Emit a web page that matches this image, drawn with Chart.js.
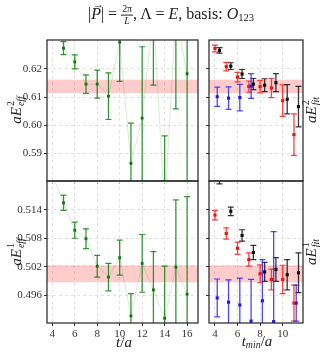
<!DOCTYPE html>
<html><head><meta charset="utf-8">
<script src="https://cdn.jsdelivr.net/npm/chart.js@4"></script>
<style>
html,body{margin:0;padding:0;background:#fff;}
#wrap{position:relative;width:320px;height:352px;overflow:hidden;background:#fff;}
canvas{position:absolute;left:0;top:0;}
.lab{position:absolute;font-family:'Liberation Serif',serif;color:#222;white-space:nowrap;line-height:1;}
.rot{transform:translate(-50%,-50%) rotate(-90deg);font-size:15px;}
.ctr{transform:translate(-50%,-50%);}
.ss{display:inline-block;vertical-align:-0.32em;font-size:0.66em;line-height:1.05;margin-left:1px;text-align:left;}
.ss span{display:block;}
.frac{display:inline-block;vertical-align:middle;text-align:center;font-size:0.62em;line-height:1.1;}
.frac span{display:block;padding:0 1px;}
.frac .num{border-bottom:0.8px solid #222;}
.vec{position:relative;display:inline-block;}
.arr{position:absolute;left:0.12em;top:-0.62em;font-size:0.72em;}
sub{font-size:0.66em;vertical-align:-0.25em;line-height:0;}
</style></head><body>
<div id="wrap">
<canvas id="c1" width="320" height="352"></canvas>
<canvas id="c2" width="320" height="352"></canvas>
<canvas id="c3" width="320" height="352"></canvas>
<canvas id="c4" width="320" height="352"></canvas>
<div class="lab ctr" style="left:171px;top:15px;font-size:16px">|<span class="vec"><i>P</i><span class="arr">&#8594;</span></span>| = <span class="frac"><span class="num">2π</span><span><i>L</i></span></span>, Λ = <i>E</i>, basis: <i>O</i><sub>123</sub></div>
<div class="lab rot" style="left:16px;top:110px"><i>aE</i><span class="ss"><span>2</span><span><i>eff</i></span></span></div>
<div class="lab rot" style="left:16px;top:252px"><i>aE</i><span class="ss"><span>1</span><span><i>eff</i></span></span></div>
<div class="lab rot" style="left:311px;top:110px"><i>aE</i><span class="ss"><span>2</span><span><i>fit</i></span></span></div>
<div class="lab rot" style="left:311px;top:252px"><i>aE</i><span class="ss"><span>1</span><span><i>fit</i></span></span></div>
<div class="lab ctr" style="left:124px;top:342px;font-size:15px"><i>t</i>/<i>a</i></div>
<div class="lab ctr" style="left:257px;top:341px;font-size:15px"><i>t<sub>min</sub></i>/<i>a</i></div>
</div>
<script>
// ---- data ----
const tEff = [4,5,6,7,8,9,10,11,12,13,14,15,16];
const eff2 = [0.660,0.6274,0.6225,0.6146,0.6146,0.6103,0.6295,0.5864,0.6025,0.640,0.570,0.640,0.6183];
const eff2Err = [0.002,0.0023,0.0025,0.0033,0.005,0.0083,0.0139,0.0143,0.0254,0.0258,0.0262,0.0342,0.045];
const eff1 = [0.5216,0.5155,0.5097,0.5079,0.5021,0.4998,0.5039,0.4916,0.5027,0.4971,0.4911,0.5019,0.4962];
const eff1Err = [0.0012,0.0016,0.0017,0.0021,0.0023,0.0029,0.0037,0.0047,0.0061,0.0081,0.011,0.0142,0.0206];
const band2 = [0.6114,0.6162];
const band1 = [0.4987,0.5023];

const tFit = [4,5,6,7,8,9,10,11];
const fit2Red = [0.6273,0.6208,0.6171,0.6137,0.6137,0.6132,0.6087,0.5966];
const fit2RedErr = [0.0012,0.0015,0.0017,0.002,0.0022,0.0034,0.0056,0.0074];
const fit2Black = [0.6266,0.621,0.6182,0.6146,0.6142,0.6151,0.6092,0.6066];
const fit2BlackErr = [0.001,0.0012,0.0016,0.002,0.0023,0.0032,0.0052,0.0072];
const tBlue2 = [4,5,6,7];
const fit2Blue = [0.6101,0.6096,0.6098,0.6139];
const fit2BlueErr = [0.0034,0.004,0.0047,0.0044];

const fit1Red = [0.5129,0.509,0.5059,0.5035,0.5005,0.4993,0.4993,0.4943];
const fit1RedErr = [0.001,0.0012,0.0013,0.0014,0.0019,0.0022,0.003,0.0038];
const fit1Black = [0.5222,0.5137,0.5086,0.505,0.5009,0.5014,0.5003,0.5007];
const fit1BlackErr = [0.0027,0.0009,0.0012,0.0015,0.002,0.0025,0.0032,0.0042];
const tBlue1 = [4,5,6,7,8,9,11];
const fit1Blue = [0.4954,0.4945,0.4939,0.4905,0.4948,0.4904,0.4943];
const fit1BlueErr = [0.004,0.0047,0.0057,0.0088,0.0087,0.019,0.0038];

const xTicksEff = [4,6,8,10,12,14,16];
const xTicksFit = [4,6,8,10];
const yTicks2 = [0.59,0.60,0.61,0.62];
const yTicks1 = [0.496,0.502,0.508,0.514];

// ---- drawing ----
const pts = (xs, ys, es, off) => xs.map((x,i)=>({x:x+off, y:ys[i], e:es[i]}));
const FONT = {family:"'Liberation Serif', serif", size:11};
const TXT = '#333';
const GRID = '#dadada';

const deco = {
  id:'deco',
  beforeDatasetsDraw(chart, args, opts){
    const {ctx, chartArea:a, scales:{x,y}} = chart;
    ctx.save();
    ctx.beginPath(); ctx.rect(a.left, a.top, a.right-a.left, a.bottom-a.top); ctx.clip();
    const b = opts.band;
    const y1 = y.getPixelForValue(b[1]), y0 = y.getPixelForValue(b[0]);
    ctx.fillStyle = 'rgba(255,0,0,0.2)';
    ctx.fillRect(a.left, y1, a.right-a.left, y0-y1);
    ctx.restore();
  },
  afterDatasetsDraw(chart){
    const {ctx, chartArea:a, scales:{x,y}} = chart;
    ctx.save();
    ctx.beginPath(); ctx.rect(a.left, a.top, a.right-a.left, a.bottom-a.top); ctx.clip();
    chart.data.datasets.forEach(ds=>{
      ctx.strokeStyle = ds.errColor;
      ds.data.forEach(p=>{
        const px = x.getPixelForValue(p.x);
        const yt = y.getPixelForValue(p.y+p.e), yb = y.getPixelForValue(p.y-p.e);
        ctx.lineWidth = 1.3;
        ctx.beginPath(); ctx.moveTo(px, yt); ctx.lineTo(px, yb); ctx.stroke();
        ctx.lineWidth = 1.2;
        ctx.beginPath();
        ctx.moveTo(px-3, yt); ctx.lineTo(px+3, yt);
        ctx.moveTo(px-3, yb); ctx.lineTo(px+3, yb);
        ctx.stroke();
      });
    });
    ctx.restore();
  },
  afterDraw(chart){
    const {ctx, chartArea:a} = chart;
    ctx.save();
    ctx.strokeStyle = '#222'; ctx.lineWidth = 1.2;
    ctx.strokeRect(a.left, a.top, a.right-a.left, a.bottom-a.top);
    ctx.restore();
  }
};

function panel(id, o){
  return new Chart(document.getElementById(id), {
    type:'scatter',
    data:{datasets:o.datasets},
    options:{
      responsive:false, animation:false, devicePixelRatio:1,
      layout:{padding:o.pad},
      plugins:{legend:{display:false}, tooltip:{enabled:false}, title:{display:false}, deco:{band:o.band}},
      scales:{
        x:{type:'linear', position:'bottom', min:o.xmin, max:o.xmax,
          afterBuildTicks:s=>{ s.ticks = o.xt.map(v=>({value:v})); },
          afterFit:s=>{ s.height = o.xh; },
          ticks:{display:o.xlab, font:FONT, color:TXT, padding:2, maxRotation:0, callback:v=>String(v)},
          grid:{color:GRID, lineWidth:0.8, tickColor:'#333', tickLength:3, tickWidth:1, tickBorderDash:[]},
          border:{display:false, dash:[3,3]}},
        y:{type:'linear', position:'left', min:o.ymin, max:o.ymax,
          afterBuildTicks:s=>{ s.ticks = o.yt.map(v=>({value:v})); },
          afterFit:s=>{ s.width = o.yw; },
          ticks:{display:o.ylab, font:FONT, color:TXT, padding:2, callback:v=>v.toFixed(o.dec)},
          grid:{color:GRID, lineWidth:0.8, tickColor:'#333', tickLength:3, tickWidth:1, tickBorderDash:[]},
          border:{display:false, dash:[3,3]}}
      }
    },
    plugins:[deco]
  });
}

const greenDs = (ys, es) => ({
  data: pts(tEff, ys, es, 0), showLine:true,
  borderColor:'rgba(0,128,0,0.16)', borderWidth:1,
  pointStyle:'rect', pointRadius:2, pointBackgroundColor:'#0a6a0a', pointBorderColor:'#0a6a0a', pointBorderWidth:0,
  errColor:'rgba(20,130,20,0.85)'
});
const fitDs = (xs, ys, es, off, col, ecol) => ({
  data: pts(xs, ys, es, off), showLine:false,
  pointStyle:'rect', pointRadius:2.2, pointBackgroundColor:col, pointBorderColor:col, pointBorderWidth:0,
  errColor:ecol
});

panel('c1', {pad:{left:17,right:122,top:40,bottom:171}, xh:0, yw:30, xlab:false, ylab:true,
  xmin:3.53, xmax:16.97, ymin:0.5801, ymax:0.6303, xt:xTicksEff, yt:yTicks2, dec:2, band:band2,
  datasets:[greenDs(eff2, eff2Err)]});
panel('c2', {pad:{left:17,right:122,top:181,bottom:11}, xh:18, yw:30, xlab:true, ylab:true,
  xmin:3.53, xmax:16.97, ymin:0.4901, ymax:0.5201, xt:xTicksEff, yt:yTicks1, dec:3, band:band1,
  datasets:[greenDs(eff1, eff1Err)]});
panel('c3', {pad:{left:203,right:17,top:40,bottom:171}, xh:0, yw:6, xlab:false, ylab:false,
  xmin:3.47, xmax:11.8, ymin:0.5801, ymax:0.6303, xt:xTicksFit, yt:yTicks2, dec:2, band:band2,
  datasets:[
    fitDs(tFit, fit2Red, fit2RedErr, 0, '#e00000', 'rgba(255,30,30,0.85)'),
    fitDs(tFit, fit2Black, fit2BlackErr, 0.4, '#000', 'rgba(20,20,20,0.85)'),
    fitDs(tBlue2, fit2Blue, fit2BlueErr, 0.2, '#1010e0', 'rgba(40,40,255,0.85)')
  ]});
panel('c4', {pad:{left:203,right:17,top:181,bottom:11}, xh:18, yw:6, xlab:true, ylab:false,
  xmin:3.47, xmax:11.8, ymin:0.4901, ymax:0.5201, xt:xTicksFit, yt:yTicks1, dec:3, band:band1,
  datasets:[
    fitDs(tFit, fit1Red, fit1RedErr, 0, '#e00000', 'rgba(255,30,30,0.85)'),
    fitDs(tFit, fit1Black, fit1BlackErr, 0.4, '#000', 'rgba(20,20,20,0.85)'),
    fitDs(tBlue1, fit1Blue, fit1BlueErr, 0.2, '#1010e0', 'rgba(40,40,255,0.85)')
  ]});
</script>
</body></html>
